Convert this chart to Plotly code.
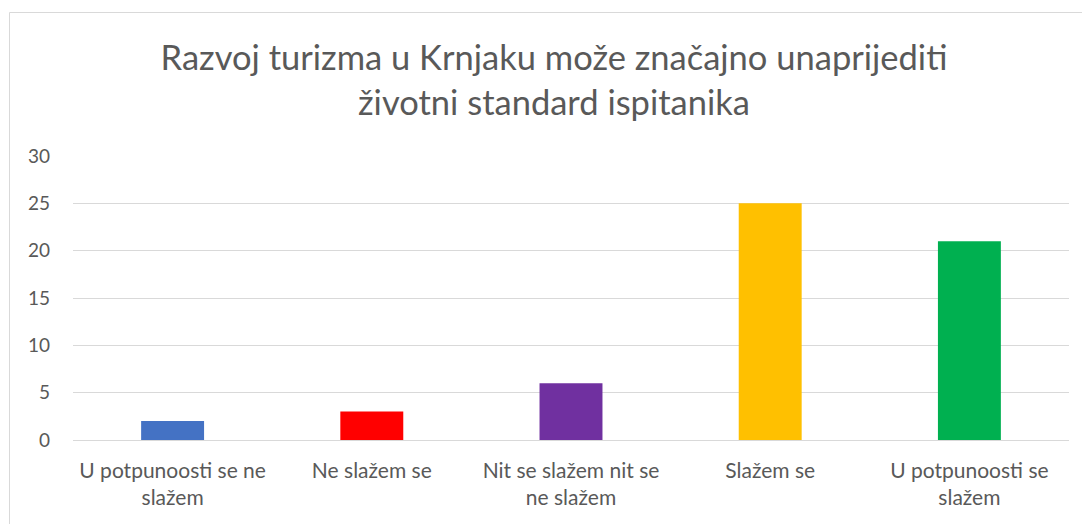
import plotly.graph_objects as go

categories = ["U potpunoosti se ne<br>slažem", "Ne slažem se", "Nit se slažem nit se<br>ne slažem", "Slažem se", "U potpunoosti se<br>slažem"]
values = [2, 3, 6, 25, 21]
colors = ["#4472C4", "#FF0000", "#7030A0", "#FFC000", "#00B050"]
title_text = "Razvoj turizma u Krnjaku može značajno unaprijediti<br>životni standard ispitanika"
y_ticks = [0, 5, 10, 15, 20, 25, 30]

W, H = 1082, 524
L, R, T, B = 73, 13, 156, 84

fig = go.Figure(go.Bar(x=categories, y=values, marker=dict(color=colors, line=dict(width=0)), width=0.316))

pw = W - L - R
ph = H - T - B
x0 = (9.5 - L) / pw
y1 = 1 + (T - 12.5) / ph

fig.update_layout(
    width=W, height=H,
    margin=dict(l=L, r=R, t=T, b=B, pad=0),
    paper_bgcolor="white", plot_bgcolor="white",
    font=dict(family="Lato, Carlito, Calibri, sans-serif", color="#595959"),
    title=dict(text=title_text, x=554 / W, xanchor="center", y=1 - 70 / H, yanchor="top",
               font=dict(size=34.5, color="#595959", family="Lato, Carlito, Calibri, sans-serif")),
    showlegend=False,
    xaxis=dict(showgrid=False, showline=False, ticks="", tickfont=dict(size=21, color="#595959"),
               tickangle=0, ticklabelstandoff=16),
    yaxis=dict(range=[0, 30], tickvals=y_ticks, showgrid=True, gridcolor="#D9D9D9", gridwidth=1,
               zeroline=True, zerolinecolor="#D9D9D9", zerolinewidth=1, showline=False, ticks="",
               tickfont=dict(size=19, color="#595959"), ticklabelstandoff=22),
    shapes=[dict(type="rect", xref="paper", yref="paper", x0=x0, x1=1.2, y0=-0.5, y1=y1,
                 line=dict(color="#D9D9D9", width=1), fillcolor="rgba(0,0,0,0)", layer="below")],
)

fig.write_html("out.html", config={"displayModeBar": False},
               post_script="document.body.style.margin='0';document.body.style.padding='0';")
